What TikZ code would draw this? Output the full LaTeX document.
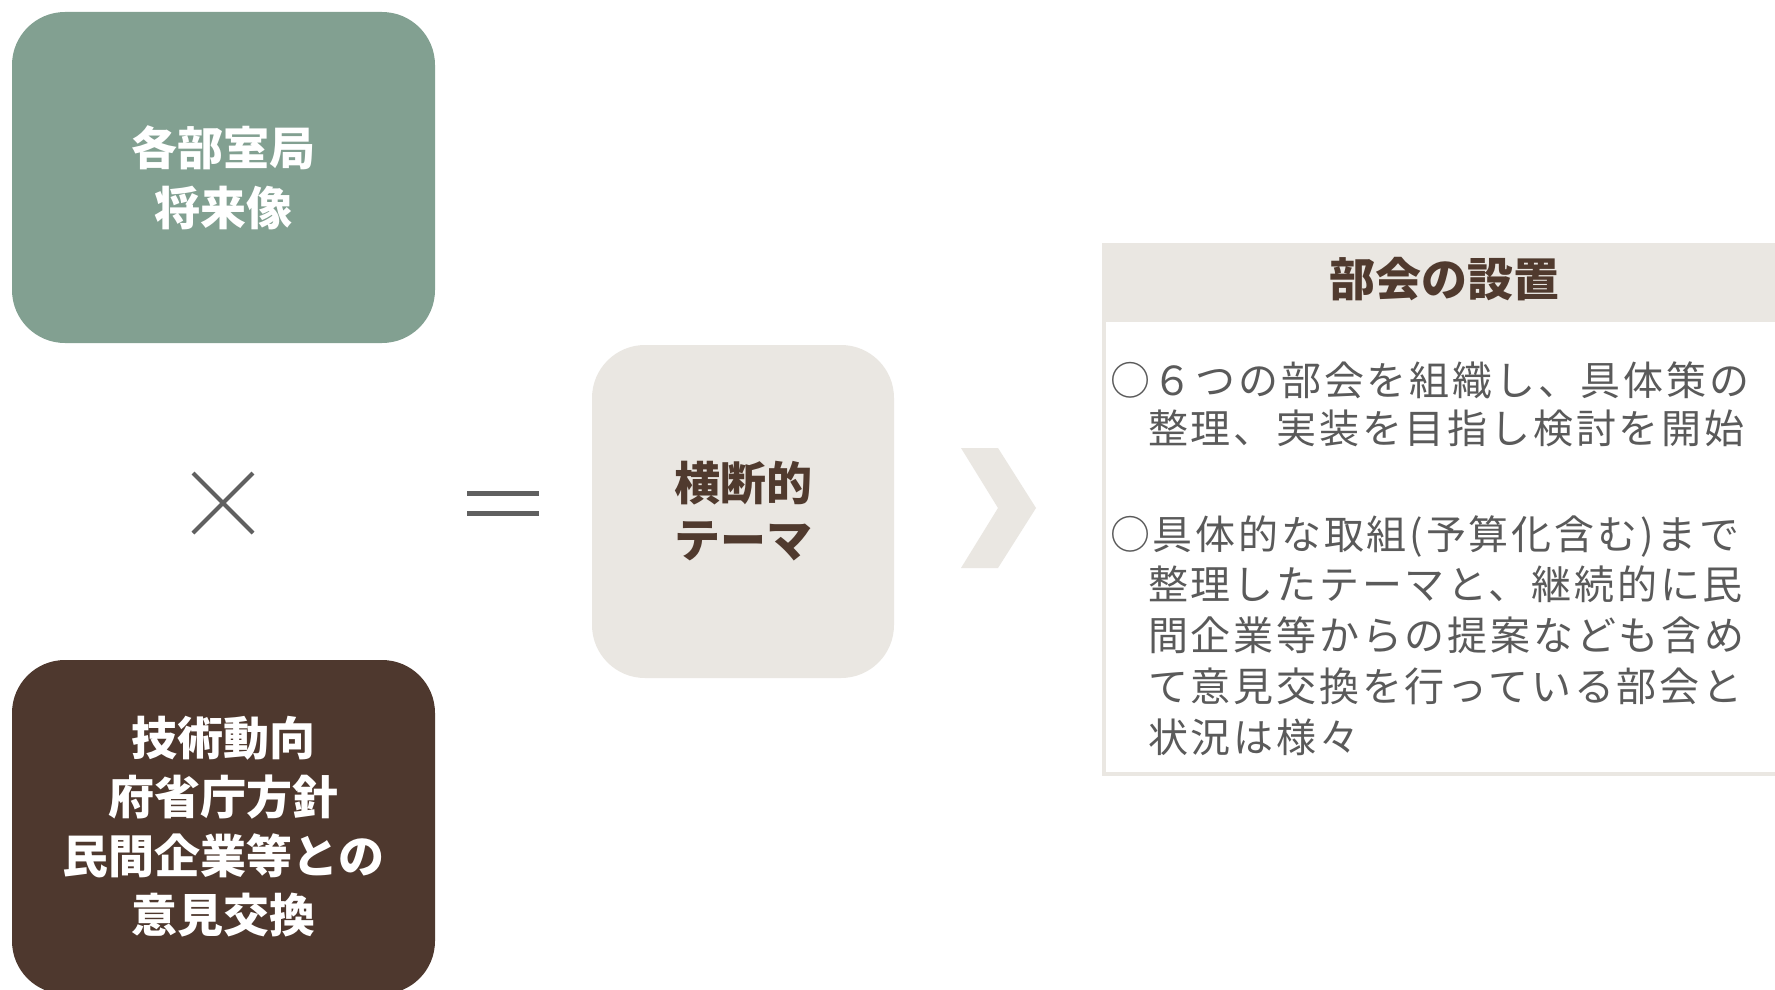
\documentclass[tikz,border=0pt]{standalone}
\usepackage{fontspec}
\setmainfont{Noto Sans CJK JP}
\newfontfamily\bodyjp[LetterSpace=7]{Noto Sans CJK JP}
\definecolor{sage}{RGB}{130,160,145}
\definecolor{boxbrown}{RGB}{78,56,46}
\definecolor{paper}{RGB}{234,231,226}
\definecolor{textbrown}{RGB}{80,58,46}
\definecolor{bodygray}{RGB}{90,90,90}
\definecolor{opgray}{RGB}{96,96,96}
\begin{document}
\begin{tikzpicture}[x=1pt,y=-1pt]
\tikzset{
  roundbox/.style={rounded corners=53pt, inner sep=0pt, align=center},
  opsign/.style={draw=opgray, line width=4pt},
  bodyline/.style={anchor=base west, inner sep=0pt, text=bodygray, font=\bodyjp\fontsize{40}{40}\selectfont},
}
\useasboundingbox (0,0) rectangle (1775,990);
\clip (0,0) rectangle (1775,990);
\fill[white] (0,0) rectangle (1775,990);

% left boxes
\node[roundbox, fill=sage, text=white, minimum width=423pt, minimum height=331pt,
      font=\bfseries\fontsize{46}{60}\selectfont] (future) at (223.5,177.5) {各部室局\\将来像};
\node[roundbox, fill=boxbrown, text=white, minimum width=423pt, minimum height=334pt,
      font=\bfseries\fontsize{46}{59}\selectfont] (trend) at (223.5,827) {技術動向\\府省庁方針\\民間企業等との\\意見交換};

% operators
\draw[opsign] (193,473) -- (253,533);
\draw[opsign] (253,473) -- (193,533);
\draw[draw=opgray, line width=5pt] (467,493) -- (539,493);
\draw[draw=opgray, line width=5pt] (467,513) -- (539,513);

% middle box
\node[roundbox, fill=paper, text=textbrown, minimum width=302pt, minimum height=333pt,
      font=\bfseries\fontsize{46}{57}\selectfont] (theme) at (743,511.5) {横断的\\テーマ};

% chevron
\fill[paper] (961,448) -- (998,448) -- (1036,508) -- (998,568) -- (961,568) -- (998,508) -- cycle;

% right panel
\fill[paper] (1102,243) rectangle (1790,322);
\draw[paper, line width=4pt] (1104,322) -- (1104,774) -- (1790,774);
\node[anchor=base, inner sep=0pt, text=textbrown, font=\bfseries\fontsize{46}{46}\selectfont] (head) at (1444,296) {部会の設置};

\node[bodyline] (t1) at (1110,395) {○６つの部会を組織し、具体策の};
\node[bodyline] (t2) at (1148,443) {整理、実装を目指し検討を開始};
\node[bodyline] (t3) at (1110,549) {○具体的な取組(予算化含む)まで};
\node[bodyline] (t4) at (1148,599) {整理したテーマと、継続的に民};
\node[bodyline] (t5) at (1148,650) {間企業等からの提案なども含め};
\node[bodyline] (t6) at (1148,701) {て意見交換を行っている部会と};
\node[bodyline] (t7) at (1148,752) {状況は様々};
\end{tikzpicture}
\end{document}
